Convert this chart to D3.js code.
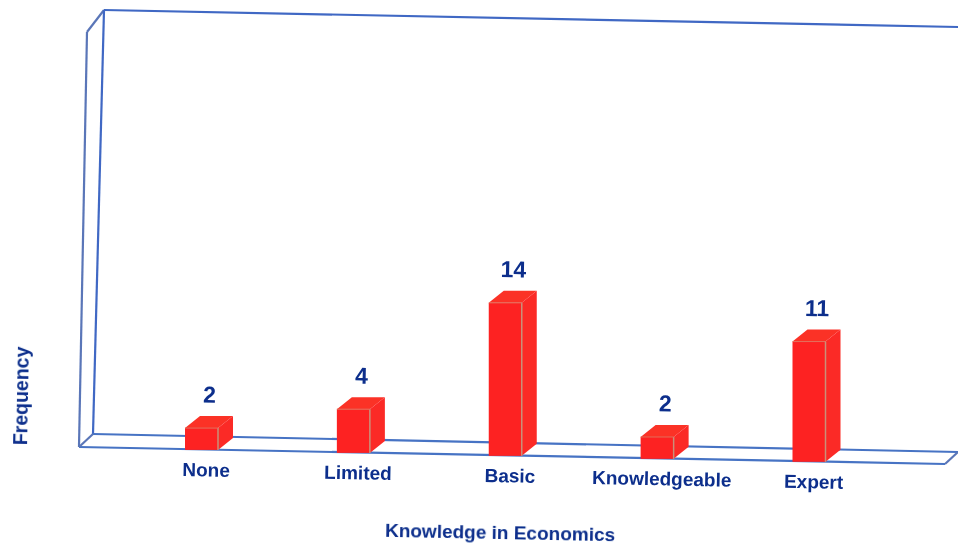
<!DOCTYPE html>
<html><head><meta charset="utf-8">
<script src="https://cdn.jsdelivr.net/npm/d3@7"></script>
<style>html,body{margin:0;padding:0;background:#fff}svg{display:block}
text{font-family:"Liberation Sans",Arial,sans-serif;fill:#0b2f8c;font-weight:bold}</style></head>
<body><div id="c"></div>
<script>
const categories=["None","Limited","Basic","Knowledgeable","Expert"];
const frequency=[2,4,14,2,11];
const xTitle="Knowledge in Economics";
const yTitle="Frequency";

const W=958,H=547;
const svg=d3.select("#c").append("svg").attr("width",W).attr("height",H);
const defs=svg.append("defs");
defs.append("filter").attr("id","soft").append("feGaussianBlur").attr("stdDeviation",0.6);
const g=svg.append("g").attr("filter","url(#soft)");

// The page is a scanned, slightly tilted chart: x runs along the tilted floor
const x=d3.scalePoint().domain(categories).range([201.5,809]);
const floorY=d3.scaleLinear().domain([79,945]).range([447,464]);
const h=d3.scaleLinear().domain([0,14]).range([0,153]);
const barW=33,dx=15,dy=-12;

// frame
const frame=[
 [[104,10],[958,27]],[[87,32],[104,10]],[[104,10],[93,434]],[[87,32],[79,447]],
 [[79,447],[945,464]],[[93,434],[958,452]],[[79,447],[93,434]],[[945,464],[958,452]]
];
g.selectAll("line.f").data(frame).join("line").attr("class","f")
 .attr("x1",d=>d[0][0]).attr("y1",d=>d[0][1]).attr("x2",d=>d[1][0]).attr("y2",d=>d[1][1])
 .attr("stroke",(d,i)=>i===0||i===2?"#3f68c4":i===4||i===5?"#4673c4":"#5a76b8").attr("stroke-width",2.2);

// bars
const data=categories.map((c,i)=>({c,v:frequency[i]}));
const bar=g.selectAll("g.b").data(data).join("g").attr("class","b");
bar.each(function(d){
  const s=d3.select(this),cx=x(d.c),l=cx-barW/2,r=cx+barW/2,b=floorY(cx)+0.5,t=b-h(d.v);
  const P=a=>a.map(p=>p.join(",")).join(" ");
  s.append("polygon").attr("points",P([[r,t],[r+dx,t+dy],[r+dx,b+dy],[r,b]])).attr("fill","#fb2a26");
  s.append("polygon").attr("points",P([[l,t],[l+dx,t+dy],[r+dx,t+dy],[r,t]])).attr("fill","#fb3028");
  s.append("rect").attr("x",l).attr("y",t).attr("width",barW).attr("height",b-t).attr("fill","#fd2020");
  s.append("line").attr("x1",r).attr("y1",t).attr("x2",r).attr("y2",b).attr("stroke","#c9907a").attr("stroke-width",1.5);
  s.append("line").attr("x1",l).attr("y1",t).attr("x2",r).attr("y2",t).attr("stroke","#e2705a").attr("stroke-width",1);
});

const tilt=1.1;
// value labels
g.selectAll("text.v").data(data).join("text").attr("class","v")
 .attr("transform",d=>{const cx=x(d.c);return `translate(${cx+8},${floorY(cx)-h(d.v)-25}) rotate(${tilt})`;})
 .attr("text-anchor","middle").attr("font-size",23).text(d=>d.v);
// category labels
g.selectAll("text.c").data(data).join("text").attr("class","c")
 .attr("transform",d=>{const cx=x(d.c);return `translate(${cx+4.5},${floorY(cx)+27}) rotate(${tilt})`;})
 .attr("text-anchor","middle").attr("font-size",19).text(d=>d.c);
// titles
g.append("text").attr("transform",`translate(500,539) rotate(${tilt})`).attr("text-anchor","middle")
 .attr("font-size",19).text(xTitle);
g.append("text").attr("transform",`translate(28,396) rotate(${-90+tilt})`).attr("text-anchor","middle")
 .attr("font-size",19.5).text(yTitle);
</script></body></html>
